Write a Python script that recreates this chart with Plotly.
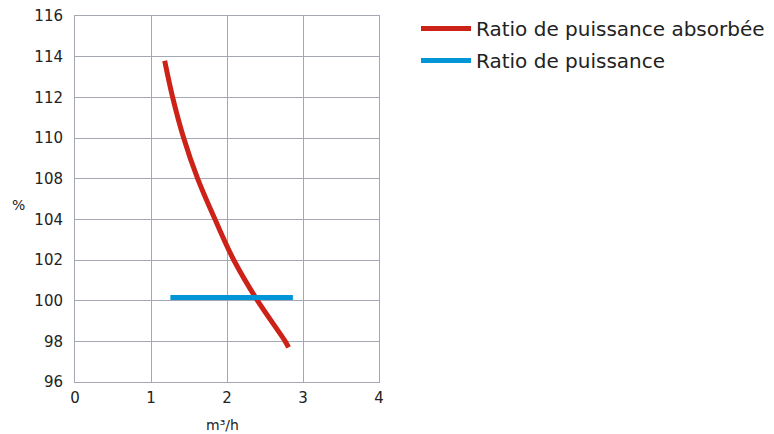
import plotly.graph_objects as go

# Red curve: flow (m³/h) vs. plotted position on the y scale (gridlines every 2 units)
red_x = [1.18, 1.285, 1.43, 1.614, 1.842, 2.089, 2.402, 2.766, 2.81]
red_y = [111.8, 110.0, 108.0, 106.0, 104.0, 102.0, 100.0, 98.0, 97.7]
red_name = "Ratio de puissance absorbée"

# Blue line
blue_x = [1.255, 2.867]
blue_y = [100.16, 100.16]
blue_name = "Ratio de puissance"

x_ticks = [0, 1, 2, 3, 4]
y_tickvals = [96, 98, 100, 102, 104, 106, 108, 110, 112, 114]
y_ticktext = ["96", "98", "100", "102", "104", "108", "110", "112", "114", "116"]

RED = "#cc2217"
BLUE = "#0095d6"
GRID = "#a3a8b2"
TXT = "#222222"
FONT = "DejaVu Sans, Liberation Sans, sans-serif"

W, H = 774, 434
L, T = 75, 16
R = W - 379
B = H - 382
PW, PH = W - L - R, H - T - B


def px_x(p):
    return (p - L) / PW


def px_y(p):
    return (H - B - p) / PH


fig = go.Figure()
fig.add_trace(go.Scatter(x=red_x, y=red_y, mode="lines", name=red_name,
                         line=dict(color=RED, width=5, shape="spline", smoothing=1.0),
                         legendgroup="a"))
fig.add_trace(go.Scatter(x=blue_x, y=blue_y, mode="lines", name=blue_name,
                         line=dict(color=BLUE, width=5), legendgroup="b"))

fig.update_layout(
    width=W, height=H,
    margin=dict(l=L, r=R, t=T, b=B, autoexpand=False),
    plot_bgcolor="white", paper_bgcolor="white",
    font=dict(family=FONT, color=TXT, size=15),
    showlegend=True,
    legend=dict(x=px_x(416), y=px_y(9), xanchor="left", yanchor="top",
                font=dict(size=20, color=TXT, family=FONT),
                itemwidth=50,
                tracegroupgap=3, bgcolor="rgba(0,0,0,0)"),
    xaxis=dict(range=[0, 4], tickvals=x_ticks, showgrid=True, gridcolor=GRID, gridwidth=1,
               zeroline=False, showline=True, linecolor=GRID, linewidth=1, mirror=True,
               ticks="", tickfont=dict(size=15, color=TXT), automargin=False,
               ticklabelstandoff=2, ticklabeloverflow="allow"),
    yaxis=dict(range=[96, 114], tickvals=y_tickvals, ticktext=y_ticktext,
               showgrid=True, gridcolor=GRID, gridwidth=1,
               zeroline=False, showline=True, linecolor=GRID, linewidth=1, mirror=True,
               ticks="", tickfont=dict(size=15, color=TXT), automargin=False,
               ticklabelstandoff=8, ticklabeloverflow="allow"),
    annotations=[
        dict(text="%", x=px_x(18), y=px_y(205), xref="paper", yref="paper",
             xanchor="center", yanchor="middle",
             showarrow=False, font=dict(size=14, color=TXT)),
        dict(text="m³/h", x=px_x(222), y=px_y(425), xref="paper", yref="paper",
             xanchor="center", yanchor="middle",
             showarrow=False, font=dict(size=14, color=TXT)),
    ],
)

fig.write_html("out.html", config={"displayModeBar": False},
               post_script="document.body.style.margin='0';")
